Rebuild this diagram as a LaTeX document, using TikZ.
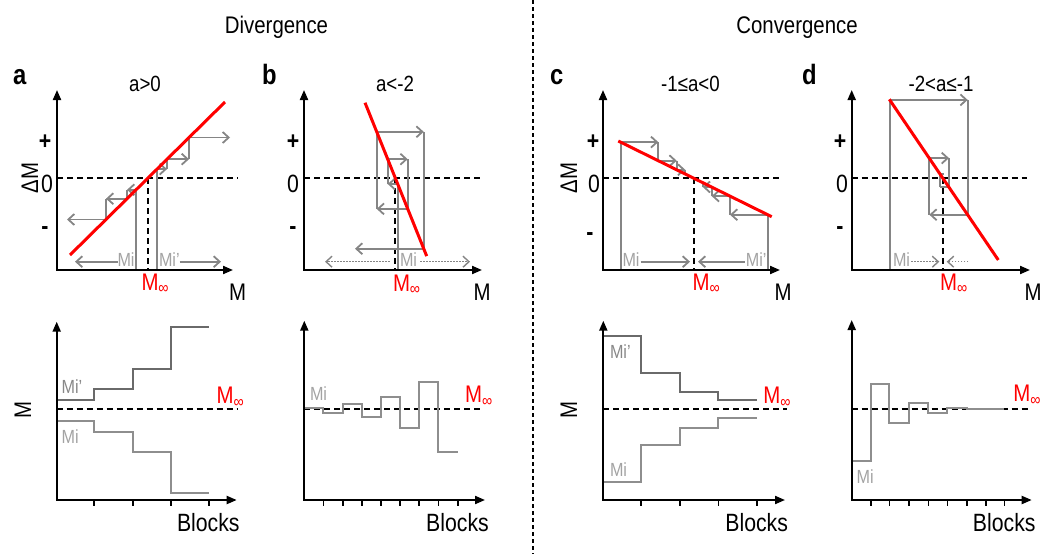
\documentclass[tikz,border=0pt]{standalone}
\usepackage{fontspec}
\setmainfont{Liberation Sans}[FakeStretch=0.85]
\usetikzlibrary{arrows.meta}
\definecolor{cgray}{HTML}{858585}
\definecolor{lgray}{HTML}{A3A3A3}
\definecolor{dgray}{HTML}{6A6A6A}
\definecolor{mgray}{HTML}{8E8E8E}
\tikzset{
  every node/.style={inner sep=0pt, outer sep=0pt},
  axes/.style={line width=2pt, {Triangle[length=10pt,width=8pt]}-{Triangle[length=10pt,width=8pt]}},
  tickmark/.style={line width=1.6pt},
  zeroline/.style={line width=2pt, dash pattern=on 6pt off 4pt},
  redline/.style={red, line width=3pt},
  cob/.style={cgray, line width=1.8pt},
  cobarr/.style={cob, -{Straight Barb[length=6pt,width=11pt]}},
  dotarr/.style={cgray, line width=1.4pt, dash pattern=on 1.6pt off 1.4pt, -{Straight Barb[length=6pt,width=11pt]}},
  hdr/.style={font=\fontsize{24}{24}\selectfont, anchor=base},
  letter/.style={font=\fontsize{28}{28}\selectfont\bfseries, anchor=base west},
  ttl/.style={font=\fontsize{22}{22}\selectfont, anchor=base},
  axlab/.style={font=\fontsize{24}{24}\selectfont, anchor=base},
  sgn/.style={font=\fontsize{25}{25}\selectfont\bfseries},
  zlab/.style={font=\fontsize{25}{25}\selectfont, anchor=base},
  minf/.style={red, font=\fontsize{24}{24}\selectfont, anchor=base west},
  milab/.style={lgray, font=\fontsize{19}{19}\selectfont, anchor=base west},
  blk/.style={font=\fontsize{25}{25}\selectfont, anchor=base},
  stair/.style={line width=2pt},
}
\begin{document}
\begin{tikzpicture}[x=1pt,y=-1pt]
\useasboundingbox (0,0) rectangle (1043,554);

% headers and divider
\node[hdr] (hdiv) at (276.5,33) {Divergence};
\node[hdr] (hconv) at (797,33) {Convergence};
\coordinate (divtop) at (533,0);
\coordinate (divbot) at (533,554);
\draw[line width=1.2pt, dash pattern=on 4pt off 3pt] (divtop) -- (divbot);

% ================= panel a (top) =================
\node[letter] (la) at (13,84) {a};
\node[ttl] (ta) at (145,91) {a>0};
\draw[zeroline] (57,178) -- (238,178);
\draw[zeroline] (148,178) -- (148,270);
\draw[cob] (136,270) -- (136,189.8);
\draw[cobarr] (136,189.8) -- (127,189.8);
\draw[cob] (127,189.8) -- (127,198.7);
\draw[cobarr] (127,198.7) -- (106,198.7);
\draw[cob] (106,198.7) -- (106,219.5);
\draw[cobarr] (106,219.5) -- (67,219.5);
\draw[cob] (157,270) -- (157,169.1);
\draw[cobarr] (157,169.1) -- (167,169.1);
\draw[cob] (167,169.1) -- (167,159.2);
\draw[cobarr] (167,159.2) -- (189,159.2);
\draw[cob] (189,159.2) -- (189,137.5);
\draw[cobarr] (189,137.5) -- (230,137.5);
\draw[redline] (70,255) -- (225,102);
\draw[axes] (57,90) -- (57,270) -- (233,270);
\node[sgn] (pa) at (45,142.5) {+};
\node[zlab] (za) at (47,192) {0};
\node[sgn] (ma) at (45,231) {-};
\node[axlab, rotate=90] (dma) at (38,178) {ΔM};
\node[milab] (mia) at (117.5,266.7) {Mi};
\node[milab] (mipa) at (159,266.7) {Mi’};
\coordinate (mia-end) at (75,261.7);
\coordinate (mipa-end) at (221,261.7);
\draw[cobarr] (mia.west |- mia-end) -- (mia-end);
\draw[cobarr] (mipa.east |- mipa-end) -- (mipa-end);
\node[minf] (minfa) at (141.5,290) {M\textsubscript{∞}};
\node[axlab] (xa) at (237.5,300) {M};

% ================= panel b (top) =================
\node[letter] (lb) at (262,84) {b};
\node[ttl] (tb) at (395,91) {a<-2};
\draw[zeroline] (304,178.3) -- (480,178.3);
\draw[zeroline] (395.4,178.3) -- (395.4,270);
\draw[cob] (397.7,270) -- (397.7,184);
\draw[cobarr] (397.7,184) -- (387.7,184);
\draw[cob] (387.7,184) -- (387.7,159.2);
\draw[cobarr] (387.7,159.2) -- (407.7,159.2);
\draw[cob] (407.7,159.2) -- (407.7,208.9);
\draw[cobarr] (407.7,208.9) -- (376.7,208.9);
\draw[cob] (376.7,208.9) -- (376.7,131.8);
\draw[cobarr] (376.7,131.8) -- (423.7,131.8);
\draw[cob] (423.7,131.8) -- (423.7,248.7);
\draw[cobarr] (423.7,248.7) -- (355,248.7);
\draw[redline] (365,102.7) -- (426.7,256.1);
\draw[axes] (304,90) -- (304,270) -- (482,270);
\node[sgn] (pb) at (293,142.5) {+};
\node[zlab] (zb) at (293,192) {0};
\node[sgn] (mb) at (293,231) {-};
\node[milab] (mib) at (400,266.7) {Mi};
\coordinate (mib-l0) at (390,261.7);
\coordinate (mib-l1) at (325,261.7);
\coordinate (mib-r1) at (470,261.7);
\draw[dotarr] (mib-l0) -- (mib-l1);
\draw[dotarr] ([xshift=3pt]mib.east |- mib-r1) -- (mib-r1);
\node[minf] (minfb) at (393,291) {M\textsubscript{∞}};
\node[axlab] (xb) at (482,300) {M};

% ================= panel c (top) =================
\node[letter] (lc) at (550,84) {c};
\node[ttl] (tc) at (690.5,91) {-1≤a<0};
\draw[zeroline] (603,178.3) -- (780,178.3);
\draw[zeroline] (694,178.3) -- (694,270);
\draw[cob] (620.7,270) -- (620.7,142.1);
\draw[cobarr] (620.7,142.1) -- (658.3,142.1);
\draw[cob] (658.3,142.1) -- (658.3,160.7);
\draw[cobarr] (658.3,160.7) -- (676.7,160.7);
\draw[cob] (676.7,160.7) -- (676.7,169.8);
\draw[cobarr] (676.7,169.8) -- (685.3,169.8);
\draw[cob] (685.3,169.8) -- (685.3,174);
\draw[cob] (767.7,270) -- (767.7,214.7);
\draw[cobarr] (767.7,214.7) -- (730,214.7);
\draw[cob] (730,214.7) -- (730,196.1);
\draw[cobarr] (730,196.1) -- (711.7,196.1);
\draw[cob] (711.7,196.1) -- (711.7,187);
\draw[cobarr] (711.7,187) -- (702.7,187);
\draw[cob] (702.7,187) -- (702.7,182.6);
\draw[redline] (618.3,141) -- (771.7,216.7);
\draw[axes] (603,90) -- (603,270) -- (780,270);
\node[sgn] (pc) at (593,142.5) {+};
\node[zlab] (zc) at (594,192) {0};
\node[sgn] (mc) at (590,237) {-};
\node[axlab, rotate=90] (dmc) at (577,178) {ΔM};
\node[milab] (mic) at (622.5,266.7) {Mi};
\node[milab, anchor=base east] (mipc) at (766.5,266.7) {Mi’};
\coordinate (mic-end) at (690,261.7);
\coordinate (mipc-end) at (698,261.7);
\draw[cobarr] ([xshift=1pt]mic.east |- mic-end) -- (mic-end);
\draw[cobarr] ([xshift=-1pt]mipc.west |- mipc-end) -- (mipc-end);
\node[minf] (minfc) at (692.5,290) {M\textsubscript{∞}};
\node[axlab] (xc) at (783,300) {M};

% ================= panel d (top) =================
\node[letter] (ld) at (802,84) {d};
\node[ttl] (td) at (941,91) {-2<a≤-1};
\draw[zeroline] (851.7,178.3) -- (1027,178.3);
\draw[zeroline] (943,178.3) -- (943,270);
\draw[cob] (890,270) -- (890,99.9);
\draw[cobarr] (890,99.9) -- (967.7,99.9);
\draw[cob] (967.7,99.9) -- (967.7,214.7);
\draw[cobarr] (967.7,214.7) -- (929.3,214.7);
\draw[cob] (929.3,214.7) -- (929.3,158.1);
\draw[cobarr] (929.3,158.1) -- (949,158.1);
\draw[cob] (949,158.1) -- (949,187.1);
\draw[cob] (949,187.1) -- (940,187.1);
\draw[cob] (940,187.1) -- (940,173.9) -- (944,173.9);
\draw[redline] (889.3,99.3) -- (998.3,260);
\draw[axes] (851.7,90) -- (851.7,270) -- (1030,270);
\node[sgn] (pd) at (840,142.5) {+};
\node[zlab] (zd) at (842,192) {0};
\node[sgn] (md) at (840,231) {-};
\node[milab] (mid) at (893,266.7) {Mi};
\coordinate (mid-end) at (939.3,261.7);
\coordinate (mid-r0) at (968.3,261.7);
\coordinate (mid-r1) at (946.7,261.7);
\draw[dotarr] ([xshift=1pt]mid.east |- mid-end) -- (mid-end);
\draw[dotarr] (mid-r0) -- (mid-r1);
\node[minf] (minfd) at (940,290) {M\textsubscript{∞}};
\node[axlab] (xd) at (1033,300) {M};

% ================= panel a (bottom) =================
\draw[zeroline] (56.7,409.3) -- (238,409.3);
\foreach \t in {94,132.7,170.7,209} \draw[tickmark] (\t,500) -- (\t,506);
\draw[dgray, stair] (56.7,400) -- (94,400) -- (94,389.3) -- (132.7,389.3) -- (132.7,369) -- (170.7,369) -- (170.7,326.7) -- (209,326.7);
\draw[mgray, stair] (56.7,420.7) -- (94,420.7) -- (94,431.7) -- (132.7,431.7) -- (132.7,451.7) -- (170.7,451.7) -- (170.7,492.7) -- (209,492.7);
\draw[axes] (56.7,321.7) -- (56.7,500) -- (236.7,500);
\node[axlab, rotate=90] (mya) at (31,410) {M};
\node[milab, dgray!80] (mipba) at (61.7,393.3) {Mi’};
\node[milab] (miba) at (61.7,443.3) {Mi};
\node[minf] (minfba) at (216.7,403.3) {M\textsubscript{∞}};
\node[blk] (blka) at (208.3,531.7) {Blocks};

% ================= panel b (bottom) =================
\draw[zeroline] (304.3,409.3) -- (481.7,409.3);
\foreach \t in {323.3,342.7,361.7,381,400,419,438.3,457.7} \draw[tickmark] (\t,500) -- (\t,506);
\draw[mgray, stair] (304.3,407.7) -- (323.3,407.7) -- (323.3,413.3) -- (342.7,413.3) -- (342.7,404.3) -- (361.7,404.3) -- (361.7,417.3) -- (381,417.3) -- (381,396.7) -- (400,396.7) -- (400,427.7) -- (419,427.7) -- (419,381.7) -- (438.3,381.7) -- (438.3,451.7) -- (457.7,451.7);
\draw[axes] (304.3,320.7) -- (304.3,500) -- (485,500);
\node[milab] (mibb) at (310,400) {Mi};
\node[minf] (minfbb) at (465,402.7) {M\textsubscript{∞}};
\node[blk] (blkb) at (457.5,531.7) {Blocks};

% ================= panel c (bottom) =================
\draw[zeroline] (603.3,409.3) -- (786.7,409.3);
\foreach \t in {641,680,718.3,756.7} \draw[tickmark] (\t,500) -- (\t,506);
\draw[dgray, stair] (603.3,336) -- (641,336) -- (641,372.7) -- (680,372.7) -- (680,391.7) -- (718.3,391.7) -- (718.3,400) -- (756.7,400);
\draw[mgray, stair] (603.3,481.7) -- (641,481.7) -- (641,445) -- (680,445) -- (680,428.3) -- (718.3,428.3) -- (718.3,418.3) -- (756.7,418.3);
\draw[axes] (603.3,320.7) -- (603.3,500) -- (785,500);
\node[axlab, rotate=90] (myc) at (577,410) {M};
\node[milab, dgray!80] (mipbc) at (610,358.3) {Mi’};
\node[milab] (mibc) at (610,476.7) {Mi};
\node[minf] (minfbc) at (763.3,403.3) {M\textsubscript{∞}};
\node[blk] (blkc) at (756.7,531.7) {Blocks};

% ================= panel d (bottom) =================
\draw[zeroline] (851.7,409.3) -- (1030,409.3);
\foreach \t in {871,889.3,909,928.3,947.3,966.7,985.7,1004.3} \draw[tickmark] (\t,500) -- (\t,506);
\draw[mgray, stair] (851.7,461) -- (871,461) -- (871,384) -- (889.3,384) -- (889.3,422.7) -- (909,422.7) -- (909,403.3) -- (928.3,403.3) -- (928.3,413.3) -- (947.3,413.3) -- (947.3,408.3) -- (966.7,408.3) -- (966.7,409.3) -- (1004.3,409.3);
\draw[axes] (851.7,320) -- (851.7,500) -- (1031.7,500);
\node[milab] (mibd) at (856.7,483.3) {Mi};
\node[minf] (minfbd) at (1013.3,401.7) {M\textsubscript{∞}};
\node[blk] (blkd) at (1004.2,531.7) {Blocks};
\end{tikzpicture}
\end{document}
